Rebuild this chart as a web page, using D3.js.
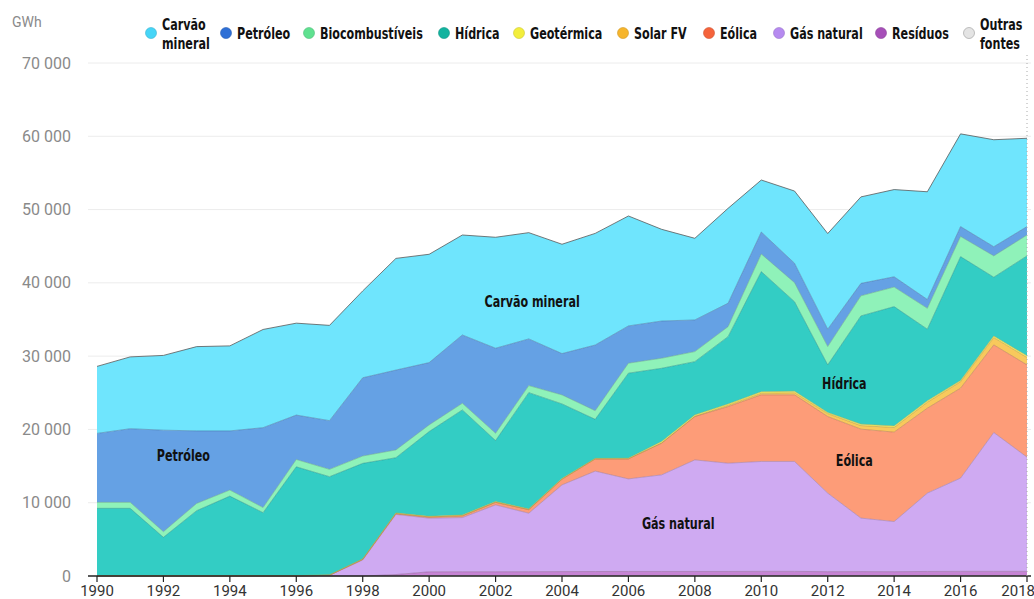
<!DOCTYPE html>
<html>
<head>
<meta charset="utf-8">
<script src="https://cdn.jsdelivr.net/npm/d3@7"></script>
<style>
  body { margin: 0; background: #fff; }
  svg { display: block; }
  .tick-y { font-family: Roboto, "Noto Sans", sans-serif; font-size: 16px; fill: #8a8a8a; }
  .tick-x { font-family: Roboto, "Noto Sans", sans-serif; font-size: 15px; fill: #333; }
  .bold { font-family: "Liberation Sans Narrow", "DejaVu Sans Condensed", sans-serif; font-weight: bold; font-size: 15.5px; fill: #111; }
</style>
</head>
<body>
<div id="chart"></div>
<script>
const years = [1990, 1991, 1992, 1993, 1994, 1995, 1996, 1997, 1998, 1999,
  2000, 2001, 2002, 2003, 2004, 2005, 2006, 2007, 2008, 2009,
  2010, 2011, 2012, 2013, 2014, 2015, 2016, 2017, 2018];

// GWh per source
const outras = [0, 0, 0, 0, 0, 0, 0, 0, 0, 0, 20, 20, 20, 20, 20, 20, 20, 20, 20, 20,
  30, 30, 30, 30, 30, 30, 30, 30, 30];
const residuos = [0, 0, 0, 0, 0, 0, 0, 0, 0, 200, 550, 560, 560, 570, 580, 590, 600, 600, 600, 600,
  600, 600, 560, 570, 560, 590, 600, 600, 600];
const gasNatural = [0, 0, 0, 0, 0, 0, 0, 100, 2180, 8200, 7320, 7390, 9120, 7980, 11830, 13700, 12630, 13180, 15220, 14770,
  15000, 15000, 10720, 7300, 6840, 10690, 12730, 18950, 15590];
const eolica = [0, 0, 0, 0, 0, 0, 0, 0, 90, 120, 170, 250, 360, 490, 780, 1660, 2730, 4320, 5910, 7730,
  9090, 9090, 10450, 12140, 12200, 11590, 12270, 11950, 12590];
const solarFV = [0, 0, 0, 0, 0, 0, 0, 0, 0, 0, 0, 0, 0, 0, 0, 0, 5, 25, 40, 160,
  215, 280, 390, 480, 630, 800, 870, 990, 1000];
const geotermica = [40, 40, 40, 40, 40, 50, 50, 50, 60, 80, 80, 100, 100, 90, 90, 70, 90, 200, 190, 180,
  200, 210, 150, 200, 210, 200, 170, 220, 230];
const hidrica = [9190, 9190, 5240, 8870, 10860, 8590, 14850, 13400, 13040, 7540, 11570, 14340, 8320, 15870, 10180, 5340, 11600, 10000, 7270, 9200,
  16400, 12220, 6510, 14770, 16290, 9780, 16910, 8030, 13640];
const biocombustiveis = [820, 820, 770, 990, 830, 700, 1000, 1000, 1000, 1060, 910, 910, 1000, 960, 1230, 1180, 1360, 1370, 1370, 1360,
  2400, 2600, 2500, 2740, 2670, 2850, 2750, 2910, 2850];
const petroleo = [9410, 10050, 13850, 9900, 8070, 10900, 6060, 6650, 10680, 10900, 8500, 9320, 11600, 6370, 5640, 8960, 5090, 5080, 4320, 3200,
  3000, 2650, 2370, 1700, 1400, 1200, 1350, 1250, 1150];
const carvao = [9140, 9800, 10200, 11500, 11600, 13400, 12540, 13000, 11850, 15240, 14780, 13640, 15140, 14500, 14920, 15230, 15000, 12510, 11140, 12950,
  7100, 9850, 13050, 11800, 11900, 14700, 12650, 14600, 12050];

const yTicks = [0, 10000, 20000, 30000, 40000, 50000, 60000, 70000];
const xTicks = [1990, 1992, 1994, 1996, 1998, 2000, 2002, 2004, 2006, 2008, 2010, 2012, 2014, 2016, 2018];

// bottom to top
const series = [
  { key: 'Outras fontes', values: outras, fill: '#f2f2f2', dot: '#e4e4e4' },
  { key: 'Resíduos', values: residuos, fill: '#c684d4', dot: '#a64fb8' },
  { key: 'Gás natural', values: gasNatural, fill: '#cfaaf2', dot: '#b68af0' },
  { key: 'Eólica', values: eolica, fill: '#fd9c78', dot: '#f5633b' },
  { key: 'Solar FV', values: solarFV, fill: '#f8c95c', dot: '#f6b52c' },
  { key: 'Geotérmica', values: geotermica, fill: '#f7f065', dot: '#f3ee3c' },
  { key: 'Hídrica', values: hidrica, fill: '#33cdc4', dot: '#12b39f' },
  { key: 'Biocombustíveis', values: biocombustiveis, fill: '#8ff2b9', dot: '#5fe190' },
  { key: 'Petróleo', values: petroleo, fill: '#65a1e4', dot: '#2e6fd6' },
  { key: 'Carvão mineral', values: carvao, fill: '#6fe5fd', dot: '#46d5f7' }
];

const legendOrder = ['Carvão mineral', 'Petróleo', 'Biocombustíveis', 'Hídrica', 'Geotérmica',
  'Solar FV', 'Eólica', 'Gás natural', 'Resíduos', 'Outras fontes'];
const legendX = [151, 226, 309, 444, 519, 623, 709, 779, 881, 969];

const width = 1034;
const height = 599;
const narrow = 0.8; // squeeze bold labels to look condensed

const svg = d3.select('#chart').append('svg')
  .attr('width', width)
  .attr('height', height);

const x = d3.scaleLinear().domain([1990, 2018]).range([97, 1027]);
const y = d3.scaleLinear().domain([0, 70000]).range([576, 63]);

// grid
svg.append('g')
  .selectAll('line')
  .data(yTicks.filter(d => d > 0))
  .join('line')
  .attr('x1', 88)
  .attr('x2', 1031)
  .attr('y1', d => y(d))
  .attr('y2', d => y(d))
  .attr('stroke', '#ececec')
  .attr('stroke-width', 1);

svg.append('g')
  .selectAll('text')
  .data(yTicks)
  .join('text')
  .attr('class', 'tick-y')
  .attr('x', 71)
  .attr('y', d => y(d))
  .attr('dy', '0.35em')
  .attr('text-anchor', 'end')
  .text(d => d3.format(',')(d).replace(',', ' '));

svg.append('text')
  .attr('class', 'tick-y')
  .attr('x', 12)
  .attr('y', 27)
  .style('font-size', '14px')
  .text('GWh');

// stacked areas
const table = years.map((yr, i) => {
  const row = { year: yr };
  series.forEach(s => { row[s.key] = s.values[i]; });
  return row;
});

const stack = d3.stack().keys(series.map(s => s.key));
const layers = stack(table);

const area = d3.area()
  .x(d => x(d.data.year))
  .y0(d => y(d[0]))
  .y1(d => y(d[1]));

const topLine = d3.line()
  .x(d => x(d.data.year))
  .y(d => y(d[1]));

const g = svg.append('g');

g.selectAll('path.area')
  .data(layers)
  .join('path')
  .attr('class', 'area')
  .attr('d', area)
  .attr('fill', (d, i) => series[i].fill);

g.selectAll('path.edge')
  .data(layers)
  .join('path')
  .attr('class', 'edge')
  .attr('d', topLine)
  .attr('fill', 'none')
  .attr('stroke', (d, i) => i === layers.length - 1 ? '#5a5a5a' : d3.color(series[i].fill).darker(0.9))
  .attr('stroke-width', (d, i) => i === layers.length - 1 ? 1 : 0.7)
  .attr('stroke-opacity', 0.8);

// x axis
svg.append('line')
  .attr('x1', 88)
  .attr('x2', 1031)
  .attr('y1', y(0))
  .attr('y2', y(0))
  .attr('stroke', '#222')
  .attr('stroke-width', 1.5);

const xt = svg.append('g');
xt.selectAll('line')
  .data(xTicks)
  .join('line')
  .attr('x1', d => x(d))
  .attr('x2', d => x(d))
  .attr('y1', y(0))
  .attr('y2', y(0) + 6)
  .attr('stroke', '#222')
  .attr('stroke-width', 1.2);

xt.selectAll('text')
  .data(xTicks)
  .join('text')
  .attr('class', 'tick-x')
  .attr('x', d => d === 2018 ? 1035 : x(d))
  .attr('y', 596)
  .attr('text-anchor', d => d === 2018 ? 'end' : 'middle')
  .text(d => d);

// hover line at last year
svg.append('line')
  .attr('x1', x(2018))
  .attr('x2', x(2018))
  .attr('y1', 55)
  .attr('y2', y(0))
  .attr('stroke', '#aaa')
  .attr('stroke-width', 1)
  .attr('stroke-dasharray', '1,3');

// in-chart labels
const labels = [
  { text: 'Carvão mineral', year: 2003.1, value: 37500 },
  { text: 'Petróleo', year: 1992.6, value: 16500 },
  { text: 'Hídrica', year: 2012.5, value: 26300 },
  { text: 'Eólica', year: 2012.8, value: 15800 },
  { text: 'Gás natural', year: 2007.5, value: 7200 }
];

svg.append('g')
  .selectAll('g')
  .data(labels)
  .join('g')
  .attr('transform', d => `translate(${x(d.year)},${y(d.value)}) scale(${narrow},1)`)
  .append('text')
  .attr('class', 'bold')
  .attr('dy', '0.35em')
  .attr('text-anchor', 'middle')
  .text(d => d.text);

// legend
const legend = svg.append('g');
legendOrder.forEach((key, i) => {
  const s = series.find(d => d.key === key);
  const item = legend.append('g').attr('transform', `translate(${legendX[i]},33)`);
  item.append('circle')
    .attr('r', 5.5)
    .attr('fill', s.dot)
    .attr('stroke', key === 'Outras fontes' ? '#999' : d3.color(s.dot).darker(0.5))
    .attr('stroke-width', 0.6);
  const words = key === 'Carvão mineral' ? ['Carvão', 'mineral']
    : key === 'Outras fontes' ? ['Outras', 'fontes'] : [key];
  const t = item.append('g')
    .attr('transform', `translate(11,0) scale(${narrow},1)`)
    .append('text').attr('class', 'bold');
  if (words.length === 1) {
    t.attr('y', 5.5).text(words[0]);
  } else {
    words.forEach((w, j) => {
      t.append('tspan').attr('x', 0).attr('y', -3 + j * 19).text(w);
    });
  }
});
</script>
</body>
</html>
